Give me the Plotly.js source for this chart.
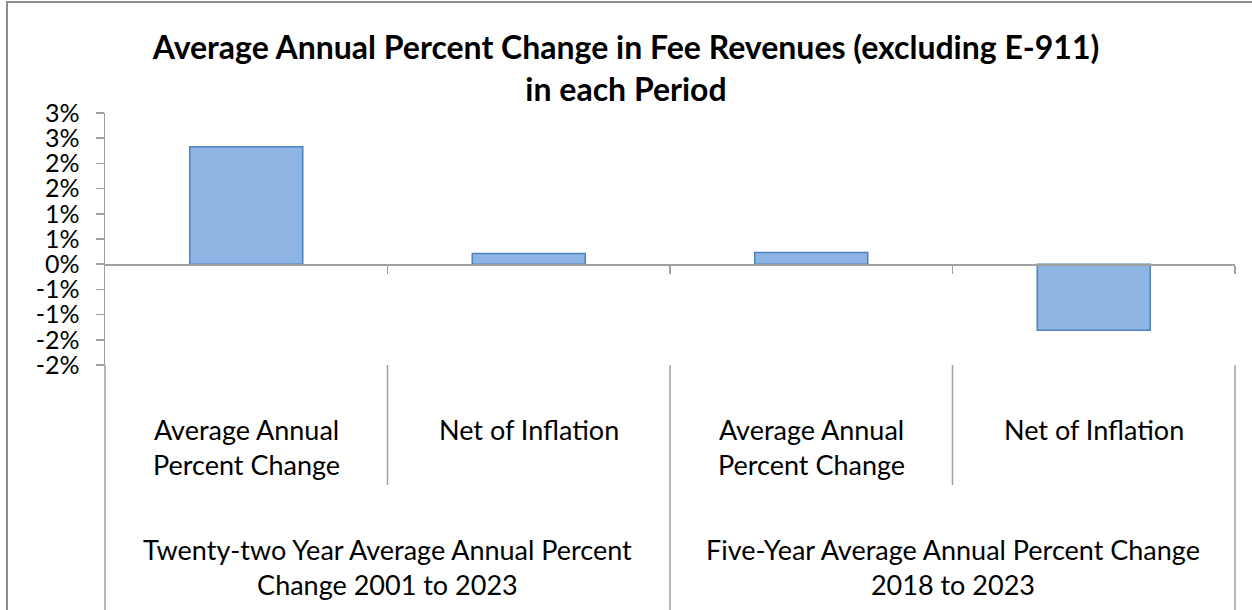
<!DOCTYPE html>
<html>
<head>
<meta charset="utf-8">
<script src="https://cdn.plot.ly/plotly-3.0.1.min.js"></script>
<style>
  html, body { margin: 0; padding: 0; background: #ffffff; }
  #chart { width: 1252px; height: 610px; }
</style>
</head>
<body>
<div id="chart"></div>
<script>
// ---- data ----
const groups = [
  "Twenty-two Year Average Annual Percent<br>Change 2001 to 2023",
  "Twenty-two Year Average Annual Percent<br>Change 2001 to 2023",
  "Five-Year Average Annual Percent Change<br>2018 to 2023",
  "Five-Year Average Annual Percent Change<br>2018 to 2023"
];
const subLabels = [
  "Average Annual<br>Percent Change",
  "Net of Inflation",
  "Average Annual<br>Percent Change",
  "Net of Inflation"
];
const values = [0.0233, 0.0021, 0.0023, -0.0131];
const yTickVals = [-0.02, -0.015, -0.01, -0.005, 0, 0.005, 0.01, 0.015, 0.02, 0.025, 0.03];
const yTickText = ["-2%", "-2%", "-1%", "-1%", "0%", "1%", "1%", "2%", "2%", "3%", "3%"];
const yMin = -0.02, yMax = 0.03;

// ---- build ----
const FONT = "Lato, 'Open Sans', sans-serif";
const GRAY = "#A0A0A0";
const n = values.length;
const xIdx = values.map((v, i) => i);

const trace = {
  type: "bar",
  x: xIdx,
  y: values,
  width: 0.4,
  marker: { color: "#8EB4E3", line: { color: "#4F81BD", width: 1.5 } },
  hoverinfo: "y"
};

const annotations = [];
subLabels.forEach((t, i) => {
  annotations.push({
    text: t, xref: "x", yref: "paper", x: i, y: 0,
    xanchor: "center", yanchor: "top", yshift: -46, showarrow: false,
    font: { family: FONT, size: 27, color: "#000" }, align: "center"
  });
});
const shapes = [];
let start = 0;
for (let i = 1; i <= n; i++) {
  if (i === n || groups[i] !== groups[start]) {
    annotations.push({
      text: groups[start], xref: "x", yref: "paper", x: (start + i - 1) / 2, y: 0,
      xanchor: "center", yanchor: "top", yshift: -166, showarrow: false,
      font: { family: FONT, size: 27, color: "#000" }, align: "center"
    });
    start = i;
  }
}
for (let i = 0; i <= n; i++) {
  const full = (i === 0 || i === n || groups[i] !== groups[i - 1]);
  shapes.push({
    type: "line", xref: "paper", yref: "paper", ysizemode: "pixel", yanchor: 0,
    x0: i / n, x1: i / n, y0: 0, y1: full ? -250 : -120,
    line: { color: GRAY, width: 1.5 }
  });
}
shapes.push({
  type: "rect", xref: "paper", yref: "paper",
  x0: (7 - 105) / 1130, x1: 1.2, y0: -1.5, y1: (365 - 2) / 252,
  line: { color: "#8C8C8C", width: 2 }, fillcolor: "rgba(0,0,0,0)", layer: "below"
});

const layout = {
  width: 1252, height: 610,
  margin: { l: 105, r: 17, t: 113, b: 245 },
  paper_bgcolor: "#ffffff", plot_bgcolor: "#ffffff",
  showlegend: false,
  title: {
    text: "<b>Average Annual Percent Change in Fee Revenues (excluding E-911)<br>in each Period</b>",
    font: { family: FONT, size: 32, color: "#000" },
    x: 0.5, xref: "container", xanchor: "center",
    y: 0.903, yref: "container", yanchor: "middle"
  },
  xaxis: {
    type: "linear", range: [-0.5, n - 0.5],
    anchor: "free", position: -yMin / (yMax - yMin),
    tickvals: xIdx.map(i => i + 0.5), ticks: "outside", ticklen: 8, tickwidth: 1.5, tickcolor: GRAY,
    showticklabels: false, showline: true, linecolor: GRAY, linewidth: 1.5,
    showgrid: false, zeroline: false, fixedrange: true
  },
  yaxis: {
    range: [yMin, yMax], tickvals: yTickVals, ticktext: yTickText,
    ticks: "outside", ticklen: 8, tickwidth: 1.5, tickcolor: GRAY,
    showline: true, linecolor: GRAY, linewidth: 1.5,
    showgrid: false, zeroline: false, ticklabelstandoff: 11,
    tickfont: { family: FONT, size: 25, color: "#000" }, fixedrange: true
  },
  annotations: annotations,
  shapes: shapes,
  bargap: 0.6
};

Plotly.newPlot("chart", [trace], layout, { displayModeBar: false, staticPlot: true });
</script>
</body>
</html>
